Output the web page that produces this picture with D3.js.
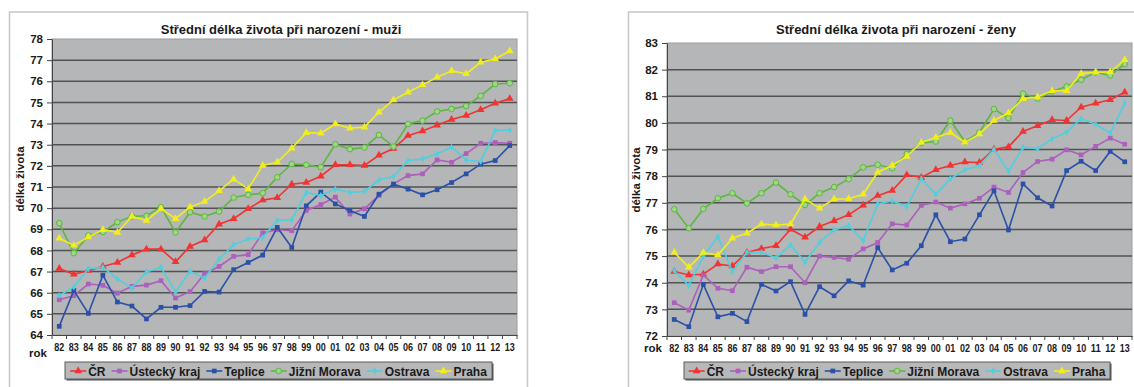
<!DOCTYPE html>
<html><head><meta charset="utf-8">
<script src="https://cdn.jsdelivr.net/npm/d3@7/dist/d3.min.js"></script>
<style>
body{margin:0;background:#fff;}
svg{display:block;font-family:"Liberation Sans",Arial,sans-serif;}
</style></head>
<body>
<svg id="c" width="1134" height="387"></svg>
<script>
const years = ["82","83","84","85","86","87","88","89","90","91","92","93","94","95","96","97","98","99","00","01","02","03","04","05","06","07","08","09","10","11","12","13"];
const seriesNames = ["ČR","Ústecký kraj","Teplice","Jižní Morava","Ostrava","Praha"];
const yTicksMuzi = [64,65,66,67,68,69,70,71,72,73,74,75,76,77,78];
const yTicksZeny = [72,73,74,75,76,77,78,79,80,81,82,83];

// muži
const muziCR      = [67.15,66.87,67.05,67.24,67.43,67.78,68.06,68.06,67.46,68.19,68.49,69.24,69.50,69.97,70.38,70.49,71.13,71.21,71.51,72.05,72.05,72.02,72.50,72.82,73.43,73.65,73.92,74.19,74.38,74.65,74.96,75.18];
const muziUstecky = [65.67,65.86,66.41,66.35,65.98,66.30,66.36,66.57,65.75,66.05,66.90,67.24,67.72,67.80,68.83,68.98,68.93,69.89,70.17,70.52,69.72,69.97,70.60,71.15,71.54,71.62,72.28,72.17,72.58,73.07,73.10,73.07];
const muziTeplice = [64.41,66.11,65.02,66.83,65.56,65.37,64.76,65.31,65.31,65.39,66.06,66.03,67.09,67.43,67.78,69.09,68.14,70.11,70.76,70.20,69.89,69.61,70.66,71.13,70.90,70.63,70.87,71.21,71.62,72.08,72.25,72.96];
const muziJM      = [69.29,67.87,68.71,68.87,69.34,69.61,69.64,70.05,68.85,69.81,69.61,69.84,70.50,70.63,70.71,71.46,72.09,72.05,71.94,73.02,72.79,72.87,73.46,72.91,73.98,74.14,74.57,74.69,74.83,75.31,75.87,75.91];
const muziOstrava = [65.87,66.27,67.13,67.20,66.65,66.22,66.98,67.20,66.03,67.02,66.69,67.59,68.27,68.54,68.61,69.42,69.45,70.74,70.60,70.91,70.74,70.79,71.34,71.50,72.25,72.33,72.57,72.88,72.28,72.20,73.67,73.70];
const muziPraha   = [68.58,68.24,68.63,68.98,68.85,69.61,69.42,69.97,69.50,70.05,70.31,70.82,71.37,70.91,72.02,72.17,72.83,73.57,73.54,73.98,73.78,73.83,74.54,75.12,75.48,75.83,76.19,76.50,76.35,76.90,77.06,77.43];

// ženy
const zenyCR      = [74.42,74.29,74.32,74.70,74.63,75.14,75.28,75.39,76.01,75.71,76.11,76.33,76.55,76.91,77.27,77.46,78.05,77.95,78.24,78.40,78.53,78.51,79.01,79.10,79.68,79.89,80.12,80.09,80.59,80.74,80.87,81.15];
const zenyUstecky = [73.25,72.97,74.29,73.79,73.70,74.58,74.42,74.60,74.60,74.00,75.00,74.95,74.88,75.27,75.51,76.21,76.17,76.90,77.03,76.80,76.96,77.17,77.59,77.39,78.14,78.55,78.64,78.99,78.80,79.12,79.43,79.20];
const zenyTeplice = [72.62,72.35,73.94,72.72,72.85,72.54,73.94,73.69,74.04,72.81,73.85,73.51,74.07,73.91,75.32,74.48,74.73,75.39,76.55,75.54,75.64,76.55,77.45,75.98,77.71,77.19,76.88,78.21,78.56,78.21,78.93,78.54];
const zenyJM      = [76.76,76.05,76.77,77.17,77.36,76.98,77.36,77.76,77.32,76.92,77.36,77.59,77.89,78.33,78.43,78.30,78.84,79.24,79.30,80.09,79.30,79.64,80.52,80.18,81.10,80.91,81.18,81.37,81.62,81.90,81.78,82.21];
const zenyOstrava = [74.45,73.89,74.98,75.73,74.42,75.14,75.14,74.94,75.42,74.77,75.52,75.98,76.15,75.58,76.96,77.07,76.86,77.90,77.32,77.90,78.24,78.39,79.01,78.18,79.09,79.03,79.40,79.65,80.16,79.95,79.62,80.74];
const zenyPraha   = [75.14,74.58,75.13,75.04,75.67,75.86,76.20,76.17,76.20,77.14,76.80,77.14,77.15,77.32,78.15,78.40,78.74,79.27,79.45,79.64,79.27,79.58,80.09,80.37,80.91,80.97,81.21,81.21,81.85,81.90,81.91,82.37];

const colors = ["#f23333","#ad5fbd","#2b50a8","#5cb83e","#4fcfe0","#f2ee1e"];
const markers = ["tri","sq","sq","circ","diam","tri"];

const svg = d3.select("#c");

function drawMarker(g, type, color, cx, cy){
  if(type==="tri"){
    g.append("path").attr("d", d3.symbol(d3.symbolTriangle, 26)()).attr("transform",`translate(${cx},${cy})`).attr("fill",color);
  } else if(type==="sq"){
    g.append("path").attr("d", d3.symbol(d3.symbolSquare, 22)()).attr("transform",`translate(${cx},${cy})`).attr("fill",color);
  } else if(type==="circ"){
    g.append("circle").attr("cx",cx).attr("cy",cy).attr("r",2.8).attr("fill","#9fd68a").attr("stroke",color).attr("stroke-width",1);
  } else {
    g.append("path").attr("d", d3.symbol(d3.symbolDiamond, 14)()).attr("transform",`translate(${cx},${cy})`).attr("fill",color);
  }
}

function chart(cfg){
  const g = svg.append("g");
  // outer frame
  g.append("rect").attr("x",cfg.fx).attr("y",12).attr("width",cfg.fw).attr("height",400)
    .attr("fill","#fff").attr("stroke","#c9c9c9").attr("stroke-width",1.6);
  const x = d3.scaleBand().domain(years).range([cfg.x0,cfg.x1]).padding(0);
  const y = d3.scaleLinear().domain(cfg.domain).range([cfg.y1,cfg.y0]);
  // plot bg
  g.append("rect").attr("x",cfg.x0).attr("y",cfg.y0).attr("width",cfg.x1-cfg.x0).attr("height",cfg.y1-cfg.y0)
    .attr("fill","#b4b6b7").attr("stroke","#9a9c9d").attr("stroke-width",1);
  // gridlines
  g.append("g").selectAll("line").data(cfg.ticks.slice(1,-1)).join("line")
    .attr("x1",cfg.x0).attr("x2",cfg.x1).attr("y1",d=>y(d)).attr("y2",d=>y(d))
    .attr("stroke","#505254").attr("stroke-width",1.5);
  // y axis
  const ya = g.append("g").attr("transform",`translate(${cfg.x0},0)`)
    .call(d3.axisLeft(y).tickValues(cfg.ticks).tickSize(5).tickSizeOuter(0).tickPadding(4));
  ya.select(".domain").attr("stroke","#444");
  ya.selectAll(".tick line").attr("stroke","#444");
  ya.selectAll("text").attr("font-size",11.5).attr("font-weight","bold").attr("fill","#1a1a1a")
    .attr("font-family","Liberation Sans, Arial, sans-serif");
  // x axis
  const xa = g.append("g").attr("transform",`translate(0,${cfg.y1})`)
    .call(d3.axisBottom(x).tickSize(0).tickPadding(8));
  xa.select(".domain").attr("stroke","#444");
  xa.selectAll("text").attr("font-size",11).attr("font-weight","bold").attr("fill","#1a1a1a")
    .attr("font-family","Liberation Sans, Arial, sans-serif")
    .attr("textLength",10).attr("lengthAdjust","spacingAndGlyphs");
  const bounds = years.map(d=>x(d)).concat([x.range()[1]]);
  g.append("g").selectAll("line").data(bounds).join("line")
    .attr("x1",d=>d).attr("x2",d=>d).attr("y1",cfg.y1).attr("y2",cfg.y1+4)
    .attr("stroke","#444").attr("stroke-width",1);
  g.append("text").attr("x",cfg.rokX).attr("y",cfg.rokY).text("rok")
    .attr("font-size",11.5).attr("fill","#1a1a1a").attr("font-weight","bold");
  // title
  g.append("text").attr("x",cfg.titleX).attr("y",34).attr("text-anchor","middle")
    .attr("font-size",13).attr("font-weight","bold").attr("fill","#1a1a1a").text(cfg.title);
  // y title
  g.append("text").attr("transform",`translate(${cfg.ytX},${cfg.ytY}) rotate(-90)`).attr("text-anchor","middle")
    .attr("font-size",11.5).attr("font-weight","bold").attr("fill","#1a1a1a").text("délka života");
  // series
  const line = d3.line().x((d,i)=>x(years[i])+x.bandwidth()/2).y(d=>y(d));
  cfg.data.forEach((s,k)=>{
    const sg = g.append("g");
    sg.append("path").attr("d",line(s)).attr("fill","none").attr("stroke",colors[k]).attr("stroke-width",1.6);
    s.forEach((v,i)=>drawMarker(sg, markers[k], colors[k], x(years[i])+x.bandwidth()/2, y(v)));
  });
  // legend
  const lg = g.append("g");
  const box = lg.append("rect").attr("x",cfg.lx0+1.5).attr("y",363.5).attr("width",cfg.lx1-cfg.lx0).attr("height",17)
    .attr("fill","#555");
  lg.append("rect").attr("x",cfg.lx0).attr("y",362).attr("width",cfg.lx1-cfg.lx0).attr("height",17)
    .attr("fill","#b6b8b9").attr("stroke","#5a5a5a").attr("stroke-width",1);
  const items = lg.append("g");
  let cx = 0;
  const positions = [];
  seriesNames.forEach((n,k)=>{
    const t = items.append("text").attr("font-size",12).attr("font-weight","bold").attr("fill","#1a1a1a").text(n);
    const w = t.node().getComputedTextLength();
    positions.push({k, lx:cx, tx:cx+18, t});
    cx += 18 + w + 6;
  });
  const total = cx - 6;
  const off = (cfg.lx0+cfg.lx1)/2 - total/2;
  positions.forEach(p=>{
    const ly = 371;
    items.append("line").attr("x1",off+p.lx).attr("x2",off+p.lx+16).attr("y1",ly).attr("y2",ly)
      .attr("stroke",colors[p.k]).attr("stroke-width",1.6);
    drawMarker(items, markers[p.k], colors[p.k], off+p.lx+8, ly);
    p.t.attr("x",off+p.tx).attr("y",375.5);
  });
}

chart({fx:9.5, fw:518, x0:52, x1:517, y0:39, y1:335, domain:[64,78], ticks:yTicksMuzi,
  title:"Střední délka života při narození - muži", titleX:281, rokX:29, rokY:357, ytX:24, ytY:179,
  lx0:65, lx1:492,
  data:[muziCR,muziUstecky,muziTeplice,muziJM,muziOstrava,muziPraha]});
chart({fx:628.5, fw:520, x0:667, x1:1132, y0:43, y1:336, domain:[72,83], ticks:yTicksZeny,
  title:"Střední délka života při narození - ženy", titleX:896, rokX:644, rokY:352, ytX:640, ytY:180,
  lx0:684, lx1:1110,
  data:[zenyCR,zenyUstecky,zenyTeplice,zenyJM,zenyOstrava,zenyPraha]});
</script>
</body></html>
